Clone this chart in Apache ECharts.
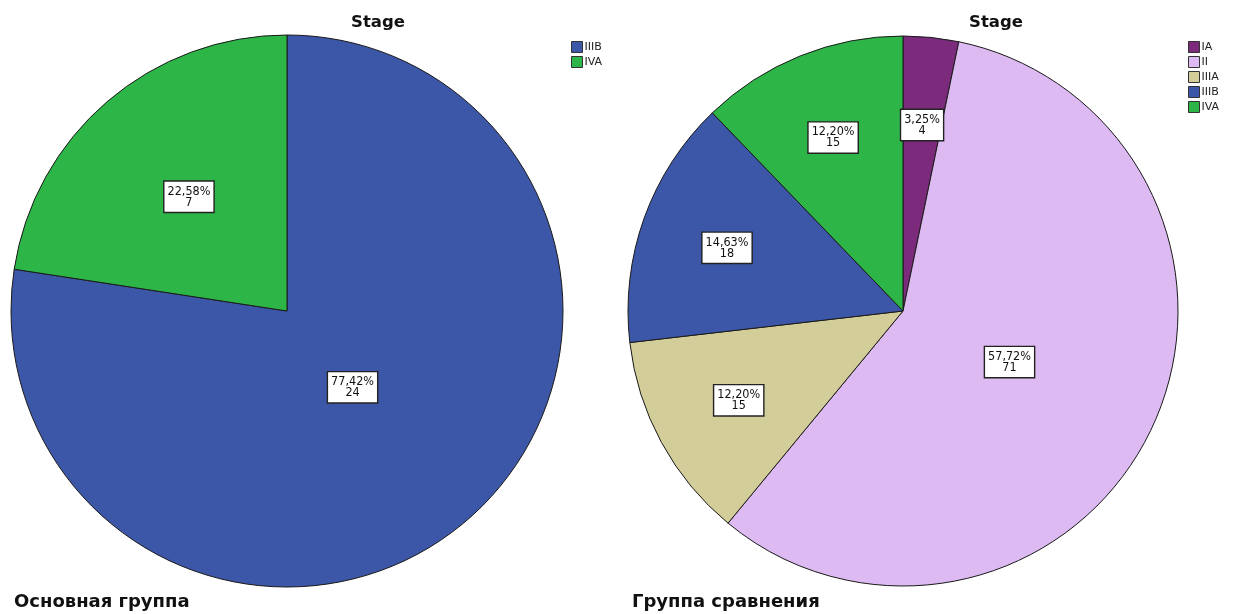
<!DOCTYPE html>
<html>
<head>
<meta charset="utf-8">
<script src="https://cdn.jsdelivr.net/npm/echarts@6/dist/echarts.min.js"></script>
<style>
  html, body { margin: 0; padding: 0; background: #fff; }
  #chart { width: 1235px; height: 614px; }
</style>
</head>
<body>
<div id="chart"></div>
<script>
// Stage distribution in two patient groups
const mainStages = ['IIIB', 'IVA'];
const mainCounts = [24, 7];
const mainPercents = ['77,42%', '22,58%'];

const compStages = ['IA', 'II', 'IIIA', 'IIIB', 'IVA'];
const compCounts = [4, 71, 15, 18, 15];
const compPercents = ['3,25%', '57,72%', '12,20%', '14,63%', '12,20%'];

const stageColors = {
  IA: '#7b2a7c',
  II: '#ddbaf1',
  IIIA: '#d3cd99',
  IIIB: '#3d57a8',
  IVA: '#2db647'
};

const pies = [
  { center: [287, 311], radius: 276, stages: mainStages, counts: mainCounts, percents: mainPercents, caption: 'Основная группа' },
  { center: [903, 311], radius: 275, stages: compStages, counts: compCounts, percents: compPercents, caption: 'Группа сравнения' }
];

const FONT = '"DejaVu Sans", "Open Sans", sans-serif';
const LABEL_FONT = '"DejaVu Sans Condensed", "DejaVu Sans", sans-serif';

// Label sits further out for thin slices, nearer the centre for wide ones
function labelPoint(pie, idx) {
  const total = pie.counts.reduce((a, b) => a + b, 0);
  let before = 0;
  for (let i = 0; i < idx; i++) before += pie.counts[i];
  const share = pie.counts[idx] / total;
  const mid = (before + pie.counts[idx] / 2) / total * Math.PI * 2;
  const k = share < 0.2 ? 0.68 : 0.62 - 0.33 * share;
  const r = pie.radius * k;
  return { x: pie.center[0] + r * Math.sin(mid), y: pie.center[1] - r * Math.cos(mid) };
}

const chart = echarts.init(document.getElementById('chart'));

const series = pies.map((pie) => ({
  type: 'pie',
  center: pie.center,
  radius: pie.radius,
  startAngle: 90,
  clockwise: true,
  animation: false,
  silent: true,
  itemStyle: { borderColor: '#1a1a1a', borderWidth: 1 },
  label: {
    show: true,
    position: 'inside',
    formatter: p => pie.percents[p.dataIndex] + '\n' + pie.counts[p.dataIndex],
    fontFamily: LABEL_FONT,
    fontSize: 12.5,
    lineHeight: 11,
    color: '#111',
    align: 'center',
    backgroundColor: '#fff',
    borderColor: '#222',
    borderWidth: 1.4,
    padding: [5, 3, 3, 3]
  },
  labelLine: { show: false },
  labelLayout: params => {
    const pt = labelPoint(pie, params.dataIndex);
    return { x: pt.x, y: pt.y, align: 'center', verticalAlign: 'middle' };
  },
  data: pie.stages.map((s, i) => ({
    name: s,
    value: pie.counts[i],
    itemStyle: { color: stageColors[s] }
  }))
}));

const legendCommon = {
  orient: 'vertical',
  icon: 'rect',
  itemWidth: 11,
  itemHeight: 11,
  itemGap: 3,
  selectedMode: false,
  itemStyle: { borderColor: '#333', borderWidth: 1 },
  textStyle: { fontFamily: FONT, fontSize: 11, color: '#222', padding: [0, 0, 0, -3] }
};

chart.setOption({
  backgroundColor: '#fff',
  title: [
    { text: 'Stage', left: 346, top: 9,
      textStyle: { fontFamily: FONT, fontSize: 16.5, fontWeight: 'bold', color: '#111' } },
    { text: 'Stage', left: 964, top: 9,
      textStyle: { fontFamily: FONT, fontSize: 16.5, fontWeight: 'bold', color: '#111' } },
    { text: pies[0].caption, left: 9, top: 588,
      textStyle: { fontFamily: FONT, fontSize: 18, fontWeight: 'bold', color: '#111' } },
    { text: pies[1].caption, left: 627, top: 588,
      textStyle: { fontFamily: FONT, fontSize: 18, fontWeight: 'bold', color: '#111' } }
  ],
  legend: [
    Object.assign({}, legendCommon, { left: 566, top: 36, data: mainStages }),
    Object.assign({}, legendCommon, { left: 1183, top: 36, data: compStages })
  ],
  series: series
});
</script>
</body>
</html>
